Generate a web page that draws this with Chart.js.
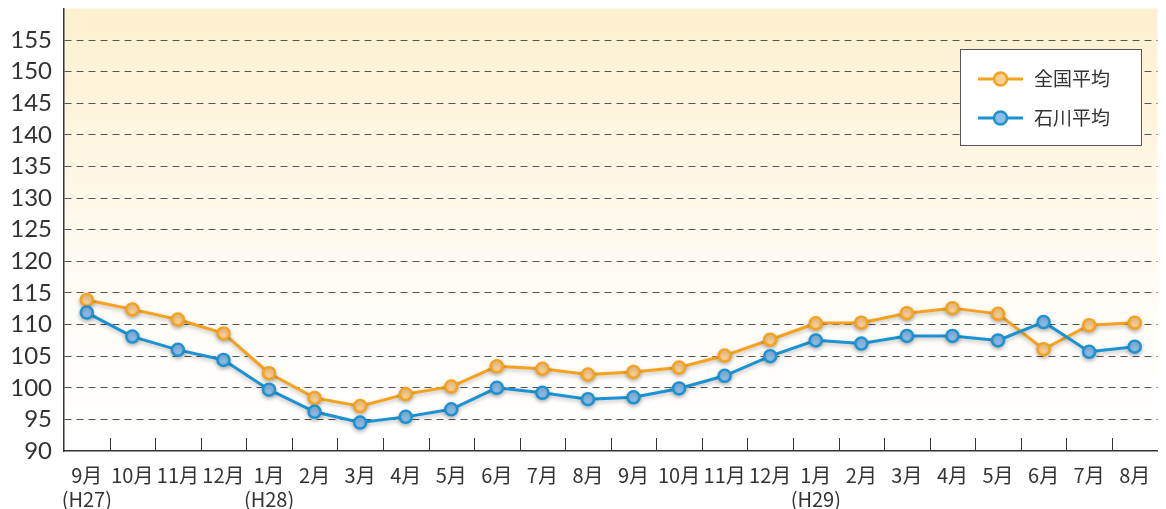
<!DOCTYPE html>
<html lang="ja">
<head>
<meta charset="utf-8">
<script src="https://cdn.jsdelivr.net/npm/chart.js@4"></script>
<style>
  html, body { margin: 0; padding: 0; background: #fff; }
  #wrap { width: 1166px; height: 509px; position: relative; }
</style>
</head>
<body>
<div id="wrap"><canvas id="lineChart"></canvas></div>
<script>
// ===== data =====
const MONTHS = [
  ['9月', '(H27)'], '10月', '11月', '12月', ['1月', '(H28)'], '2月', '3月', '4月', '5月',
  '6月', '7月', '8月', '9月', '10月', '11月', '12月', ['1月', '(H29)'], '2月', '3月',
  '4月', '5月', '6月', '7月', '8月',
];
const NATIONAL_AVG = [
  113.9, 112.4, 110.8, 108.6, 102.3, 98.4, 97.1, 99.0, 100.2, 103.4, 103.0, 102.1,
  102.5, 103.2, 105.1, 107.6, 110.2, 110.3, 111.8, 112.6, 111.7, 106.1, 109.9, 110.3,
];
const ISHIKAWA_AVG = [
  111.9, 108.1, 106.0, 104.4, 99.7, 96.2, 94.5, 95.4, 96.6, 100.0, 99.2, 98.2,
  98.5, 99.9, 101.9, 105.0, 107.5, 107.0, 108.2, 108.2, 107.5, 110.4, 105.7, 106.5,
];
const SERIES_LABELS = ['全国平均', '石川平均'];
const Y_TICKS = [90, 95, 100, 105, 110, 115, 120, 125, 130, 135, 140, 145, 150, 155, 160];

const COLORS = {
  national: '#f5a21f',
  nationalFill: '#fdd194',
  ishikawa: '#1b93d2',
  ishikawaFill: '#8fbde8',
  text: '#333',
  axis: '#333',
};
const FONT = "'Noto Sans CJK JP', 'Noto Sans', sans-serif";

// background gradient inside the plot area
const bgPlugin = {
  id: 'bg',
  beforeDraw(chart) {
    const { ctx, chartArea: a } = chart;
    const g = ctx.createLinearGradient(0, a.top, 0, a.bottom);
    g.addColorStop(0, '#fdf0cf');
    g.addColorStop(0.7, '#fffdf8');
    g.addColorStop(1, '#ffffff');
    ctx.save();
    ctx.fillStyle = g;
    ctx.fillRect(a.left, a.top, a.right - a.left, a.bottom - a.top);
    ctx.restore();
  },
};

// short category separators standing on the x axis
const sepPlugin = {
  id: 'sep',
  afterDraw(chart) {
    const { ctx, chartArea: a, scales } = chart;
    const x = scales.x;
    ctx.save();
    ctx.strokeStyle = COLORS.axis;
    ctx.lineWidth = 1;
    for (let i = 1; i < MONTHS.length; i++) {
      const px = Math.round((x.getPixelForValue(i - 1) + x.getPixelForValue(i)) / 2) + 0.5;
      ctx.beginPath();
      ctx.moveTo(px, a.bottom);
      ctx.lineTo(px, a.bottom - 13);
      ctx.stroke();
    }
    ctx.restore();
  },
};

// soft shadow under lines and points
const shadowPlugin = {
  id: 'shadow',
  beforeDatasetsDraw(chart) {
    const ctx = chart.ctx;
    ctx.save();
    ctx.shadowColor = 'rgba(0,0,0,0.25)';
    ctx.shadowBlur = 4;
    ctx.shadowOffsetY = 2;
  },
  afterDatasetsDraw(chart) {
    chart.ctx.restore();
  },
};

// boxed legend in the upper right
const legendBoxPlugin = {
  id: 'legendBox',
  afterDraw(chart) {
    const ctx = chart.ctx;
    const bx = 960.5, by = 49.5, bw = 181, bh = 96;
    ctx.save();
    ctx.fillStyle = '#fff';
    ctx.fillRect(bx, by, bw, bh);
    ctx.strokeStyle = '#555';
    ctx.lineWidth = 1;
    ctx.strokeRect(bx, by, bw, bh);
    const sets = [
      { line: COLORS.national, fill: COLORS.nationalFill, y: 79 },
      { line: COLORS.ishikawa, fill: COLORS.ishikawaFill, y: 118 },
    ];
    sets.forEach((s, i) => {
      ctx.strokeStyle = s.line;
      ctx.lineWidth = 3;
      ctx.beginPath();
      ctx.moveTo(978, s.y);
      ctx.lineTo(1023, s.y);
      ctx.stroke();
      ctx.beginPath();
      ctx.arc(1000.5, s.y, 6.5, 0, Math.PI * 2);
      ctx.fillStyle = s.fill;
      ctx.fill();
      ctx.lineWidth = 2.5;
      ctx.stroke();
      ctx.fillStyle = COLORS.text;
      ctx.font = '19px ' + FONT;
      ctx.textBaseline = 'middle';
      ctx.fillText(SERIES_LABELS[i], 1034, s.y);
    });
    ctx.restore();
  },
};

const ctx = document.getElementById('lineChart').getContext('2d');
new Chart(ctx, {
  type: 'line',
  data: {
    labels: MONTHS,
    datasets: [
      {
        label: SERIES_LABELS[0],
        data: NATIONAL_AVG,
        borderColor: COLORS.national,
        backgroundColor: COLORS.nationalFill,
        pointBackgroundColor: COLORS.nationalFill,
        pointBorderColor: COLORS.national,
        borderWidth: 3,
        pointRadius: 6,
        pointBorderWidth: 2.5,
        tension: 0,
        order: 1,
      },
      {
        label: SERIES_LABELS[1],
        data: ISHIKAWA_AVG,
        borderColor: COLORS.ishikawa,
        backgroundColor: COLORS.ishikawaFill,
        pointBackgroundColor: COLORS.ishikawaFill,
        pointBorderColor: COLORS.ishikawa,
        borderWidth: 3,
        pointRadius: 6,
        pointBorderWidth: 2.5,
        tension: 0,
        order: 0,
      },
    ],
  },
  options: {
    responsive: true,
    maintainAspectRatio: false,
    animation: false,
    layout: { padding: { top: 7, right: 0, left: 0, bottom: 0 } },
    scales: {
      x: {
        offset: true,
        grid: { display: false, drawTicks: false },
        border: { color: COLORS.axis, width: 1.5 },
        ticks: {
          color: COLORS.text,
          font: { family: FONT, size: 20, lineHeight: 1.2 },
          maxRotation: 0,
          autoSkip: false,
          padding: 12,
        },
        afterFit: (s) => {
          s.height = 58;
          s.paddingLeft = 0;
          s.paddingRight = 0;
        },
      },
      y: {
        min: 90,
        max: 160,
        afterBuildTicks: (s) => { s.ticks = Y_TICKS.map((v) => ({ value: v })); },
        grid: {
          color: (c) => (c.tick.value === 90 || c.tick.value === 160 ? 'rgba(0,0,0,0)' : '#555'),
          drawTicks: false,
        },
        border: { color: COLORS.axis, width: 1.5, dash: [7, 5] },
        ticks: {
          color: COLORS.text,
          font: { family: "'Lato', 'Noto Sans', sans-serif", size: 24 },
          padding: 12,
          autoSkip: false,
          callback: (v) => (v === 160 ? '' : v),
        },
        afterFit: (s) => {
          s.width = 64;
          s.paddingTop = 0;
          s.paddingBottom = 0;
        },
      },
    },
    plugins: {
      legend: { display: false },
      tooltip: { enabled: false },
    },
  },
  plugins: [bgPlugin, sepPlugin, shadowPlugin, legendBoxPlugin],
});
</script>
</body>
</html>
